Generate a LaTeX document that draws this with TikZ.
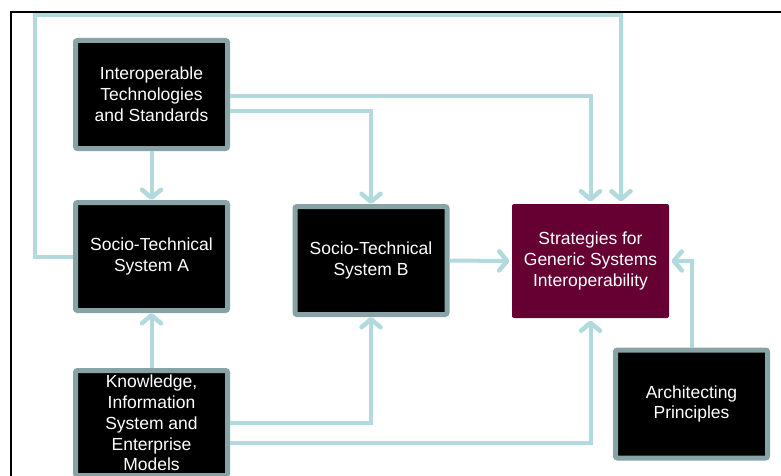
\documentclass[tikz,border=0pt]{standalone}
\usepackage{fontspec}
\setmainfont{Liberation Sans}
\usepackage{tikz}
\usetikzlibrary{arrows.meta,calc}
\definecolor{linkblue}{HTML}{B2DADE}
\definecolor{edgegray}{HTML}{87A3A5}
\definecolor{wine}{HTML}{660033}
\tikzset{
    tip/.tip={Straight Barb[length=8pt,width=19pt,line width=4.5pt,round]}
}

\begin{document}
\begin{tikzpicture}[x=1pt,y=-1pt,
    box/.style={fill=black,draw=edgegray,line width=5pt,rounded corners=2pt,
        minimum width=152pt,minimum height=108pt,inner sep=0pt,
        text=white,align=center,font=\fontsize{17.5}{20.8}\selectfont},
    goal/.style={box,fill=wine,draw=none,minimum width=157pt,minimum height=114pt},
    link/.style={draw=linkblue,line width=4pt,-tip}]
            \useasboundingbox (0,0) rectangle (781,476);
            \draw[line width=2pt] (11,477) -- (11,12) -- (782,12); %外框
            \node[box] (its) at (151.5,94.5) {Interoperable\\Technologies\\and Standards};
            \node[box] (sysa) at (151.5,256.5) {Socio-Technical\\System A};
            \node[box] (sysb) at (371,260.5) {Socio-Technical\\System B};
            \node[goal] (strat) at (590.5,261) {Strategies for\\Generic Systems\\Interoperability};
            \node[box] (arch) at (691.5,404) {Architecting\\Principles};
            \node[box,minimum height=105pt] (know) at (151.5,423) {Knowledge,\\Information\\System and\\Enterprise\\Models};
            \coordinate (T) at (35,15); %回路的拐点
            \draw[link] (its.south) -- (sysa.north);
            \draw[link] ([yshift=-1.5pt]its.east) -| (strat.north);
            \draw[link] ([yshift=-16.5pt]its.east) -| (sysb.north);
            \draw[link] (sysa.west) -| (T) -| ([xshift=30.5pt]strat.north);
            \draw[link] (sysb.east) -- (strat.west);
            \draw[link] (arch.north) |- (strat.east);
            \draw[link] (know.north) -- (sysa.south);
            \draw[link] (know.east) -| (sysb.south);
            \draw[link] ([yshift=-20pt]know.east) -| (strat.south);
            \end{tikzpicture}
\end{document}
